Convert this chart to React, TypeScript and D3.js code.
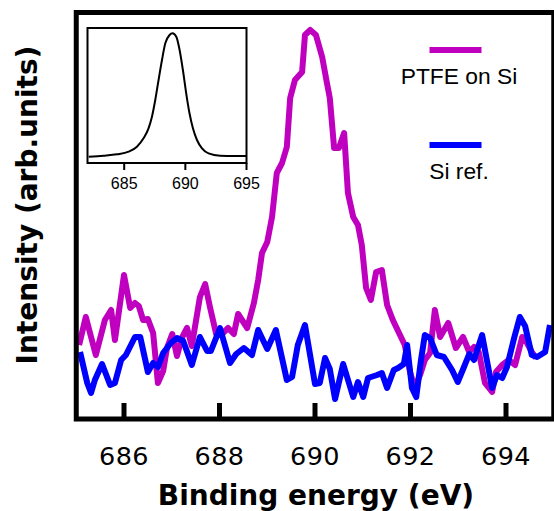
import * as d3 from 'd3';

// PTFE on Si, F 1s region (arb. units)
const ptfeEnergy = [
  685.06, 685.20, 685.41, 685.60, 685.73, 685.81, 686.00, 686.13, 686.23, 686.31,
  686.40, 686.50, 686.61, 686.71, 686.82, 686.90, 687.01, 687.11, 687.21, 687.32,
  687.42, 687.59, 687.70, 687.80, 687.93, 688.03, 688.18, 688.30, 688.39, 688.58,
  688.72, 688.81, 688.89, 689.00, 689.10, 689.20, 689.31, 689.41, 689.48, 689.58,
  689.73, 689.79, 689.90, 690.02, 690.15, 690.25, 690.31, 690.40, 690.50, 690.61,
  690.69, 690.80, 690.90, 690.98, 691.07, 691.17, 691.28, 691.40, 691.51, 691.63,
  691.78, 691.88, 691.99, 692.09, 692.20, 692.30, 692.41, 692.51, 692.62, 692.79,
  692.95, 693.10, 693.23, 693.33, 693.43, 693.56, 693.71, 693.79, 693.92, 694.06,
  694.19, 694.34, 694.44, 694.54, 694.63,
];
const ptfeIntensity = [
  74, 102, 64, 99, 109, 79, 144, 111, 116, 113,
  99, 100, 86, 36, 48, 71, 85, 63, 81, 91,
  73, 122, 135, 112, 85, 84, 91, 85, 105, 91,
  116, 139, 166, 177, 202, 246, 256, 272, 321, 339,
  347, 384, 389, 384, 362, 336, 321, 271, 271, 286,
  226, 202, 194, 174, 131, 119, 147, 149, 114, 99,
  84, 74, 47, 31, 44, 59, 66, 109, 82, 96,
  71, 82, 67, 72, 67, 36, 27, 47, 54, 59,
  54, 82, 76, 67, 61,
];

// Si reference
const siEnergy = [
  685.08, 685.23, 685.31, 685.39, 685.54, 685.71, 685.81, 685.94, 686.04, 686.23,
  686.34, 686.50, 686.61, 686.71, 686.82, 686.98, 687.11, 687.24, 687.42, 687.59,
  687.74, 687.82, 688.01, 688.22, 688.35, 688.51, 688.68, 688.81, 689.00, 689.18,
  689.41, 689.52, 689.64, 689.79, 690.00, 690.10, 690.21, 690.31, 690.42, 690.59,
  690.80, 690.90, 691.01, 691.11, 691.30, 691.40, 691.51, 691.65, 691.74, 691.86,
  691.93, 692.03, 692.12, 692.22, 692.30, 692.41, 692.55, 692.70, 692.87, 692.99,
  693.12, 693.23, 693.33, 693.50, 693.71, 693.81, 693.92, 694.02, 694.17, 694.29,
  694.40, 694.54, 694.65, 694.82, 694.92,
];
const siIntensity = [
  67, 36, 26, 39, 55, 34, 36, 59, 64, 82,
  82, 47, 56, 52, 66, 76, 81, 78, 54, 82,
  68, 68, 91, 56, 65, 71, 64, 89, 70, 89,
  39, 42, 74, 94, 35, 36, 61, 50, 20, 55,
  22, 37, 22, 41, 44, 46, 31, 49, 51, 55,
  74, 31, 22, 59, 84, 81, 64, 62, 49, 37,
  52, 65, 59, 84, 31, 44, 41, 52, 81, 102,
  93, 64, 62, 67, 94,
];

// inset: fitted F 1s envelope
const insetEnergy = [
  682.1, 683.31, 684.41, 685.36, 686.04, 686.58, 686.99, 687.27, 687.54, 687.81,
  688.09, 688.36, 688.71, 688.95, 689.26, 689.53, 689.80, 690.07, 690.34, 690.62,
  690.95, 691.36, 691.90, 692.85, 693.94, 694.98,
];
const insetIntensity = [
  6.3, 7.3, 8.7, 11.3, 16.3, 24.7, 34.7, 46.3, 63, 83,
  103, 119.7, 128, 129.7, 126.3, 113, 93, 69.7, 49.7, 34.7,
  23, 14.7, 9.7, 7.3, 7, 7,
];

const xTicks = [686, 688, 690, 692, 694];
const insetTicks = [685, 690, 695];
const legendLabels = ['PTFE on Si', 'Si ref.'];

const PURPLE = '#bf00bf';
const BLUE = '#0000ff';

export default function App() {
  const x = d3.scaleLinear().domain([685, 695]).range([76.25, 553.75]);
  const y = d3.scaleLinear().domain([0, 407]).range([419, 12]);

  const ix = d3.scaleLinear().domain([682, 695]).range([87.5, 246.5]);
  const iy = d3.scaleLinear().domain([0, 135]).range([163, 28]);

  const line = d3.line<[number, number]>().x(d => x(d[0])).y(d => y(d[1]));
  const insetLine = d3.line<[number, number]>().x(d => ix(d[0])).y(d => iy(d[1])).curve(d3.curveMonotoneX);

  const ptfe = ptfeEnergy.map((e, i) => [e, ptfeIntensity[i]] as [number, number]);
  const si = siEnergy.map((e, i) => [e, siIntensity[i]] as [number, number]);
  const inset = insetEnergy.map((e, i) => [e, insetIntensity[i]] as [number, number]);

  const sans = '"Liberation Sans", Arial, sans-serif';
  const dejavu = '"DejaVu Sans", Verdana, sans-serif';

  return (
    <svg width={554} height={511} style={{ position: 'absolute', left: 0, top: 0, background: '#fff' }}>
      <path d={line(ptfe) || ''} fill="none" stroke={PURPLE} strokeWidth={6} strokeLinejoin="round" />
      <path d={line(si) || ''} fill="none" stroke={BLUE} strokeWidth={6} strokeLinejoin="round" />

      {/* frame */}
      <rect x={x(685)} y={y(407) + 0.5} width={x(695) - x(685)} height={y(0) - y(407) - 0.5}
        fill="none" stroke="#000" strokeWidth={5} />
      {xTicks.map(t => (
        <g key={t}>
          <line x1={x(t)} x2={x(t)} y1={y(0)} y2={y(0) - 16} stroke="#000" strokeWidth={5} />
          <text x={x(t)} y={465} textAnchor="middle" fontFamily={dejavu} fontSize={25.5}
            letterSpacing={0.5} fill="#000">{t}</text>
        </g>
      ))}

      <text x={316} y={505} textAnchor="middle" fontFamily={dejavu} fontWeight="bold" fontSize={28}>
        Binding energy (eV)
      </text>
      <text transform="translate(37,205) rotate(-90)" textAnchor="middle" fontFamily={dejavu}
        fontWeight="bold" fontSize={28}>
        Intensity (arb.units)
      </text>

      {/* legend */}
      <line x1={429.5} x2={481.5} y1={50} y2={50} stroke={PURPLE} strokeWidth={6} />
      <text x={459} y={84} textAnchor="middle" fontFamily={sans} fontSize={22.8}>{legendLabels[0]}</text>
      <line x1={429.5} x2={481.5} y1={145} y2={145} stroke={BLUE} strokeWidth={6} />
      <text x={459} y={178.5} textAnchor="middle" fontFamily={sans} fontSize={22.8}>{legendLabels[1]}</text>

      {/* inset */}
      <rect x={ix(682)} y={iy(135)} width={ix(695) - ix(682)} height={iy(0) - iy(135)}
        fill="#fff" stroke="#000" strokeWidth={2} />
      <path d={insetLine(inset) || ''} fill="none" stroke="#000" strokeWidth={2} />
      {insetTicks.map(t => (
        <g key={t}>
          <line x1={ix(t)} x2={ix(t)} y1={iy(0)} y2={iy(0) + 7} stroke="#000" strokeWidth={2} />
          <text x={ix(t)} y={189} textAnchor="middle" fontFamily={sans} fontSize={16}>{t}</text>
        </g>
      ))}
    </svg>
  );
}
